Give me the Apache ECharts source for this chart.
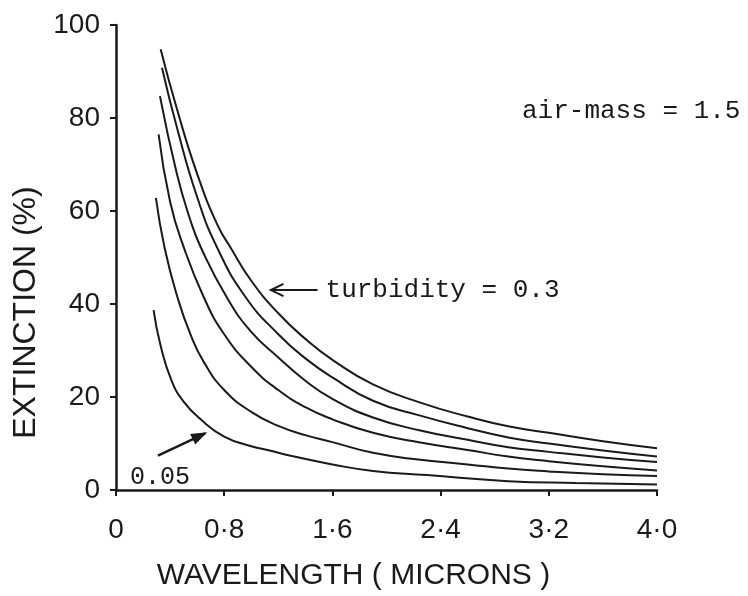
<!DOCTYPE html>
<html><head><meta charset="utf-8">
<script src="https://cdn.jsdelivr.net/npm/echarts@6/dist/echarts.min.js"></script>
<style>html,body{margin:0;padding:0;background:#fff}#c{width:748px;height:596px}</style>
</head><body><div id="c"></div>
<script>
// Tick labels
const xTickLabels = ['0', '0·8', '1·6', '2·4', '3·2', '4·0'];
const yTickLabels = ['0', '20', '40', '60', '80', '100'];
const seriesNames = ['turbidity = 0.3', 'curve 2', 'curve 3', 'curve 4', 'curve 5', 'turbidity = 0.05'];

// Wavelength (microns) and extinction (%), top curve first
const lambda1 = [0.33, 0.45, 0.6, 0.75, 0.85, 1.0, 1.2, 1.4, 1.6, 1.9, 2.25, 2.6, 2.9, 3.2, 3.6, 4.0];
const ext1    = [94.8, 82, 68, 57, 52, 45, 38, 32.5, 28, 22.7, 18.8, 15.8, 13.7, 12.3, 10.5, 9.0];
const lambda2 = [0.34, 0.45, 0.6, 0.75, 0.96, 1.2, 1.4, 1.6, 1.9, 2.25, 2.6, 2.9, 3.2, 3.6, 4.0];
const ext2    = [90.8, 78, 63, 52, 41.4, 33.5, 28.3, 24.2, 19.2, 16.0, 13.3, 11.3, 10.0, 8.5, 7.2];
const lambda3 = [0.325, 0.45, 0.55, 0.63, 0.82, 1.0, 1.2, 1.4, 1.6, 1.9, 2.25, 2.6, 2.9, 3.2, 3.6, 4.0];
const ext3    = [84.7, 68, 58, 52, 41.4, 34, 28.5, 23.5, 19.6, 15.6, 12.8, 10.8, 9.2, 8.2, 7.0, 6.0];
const lambda4 = [0.315, 0.4, 0.5, 0.65, 0.8, 1.0, 1.2, 1.4, 1.6, 1.9, 2.25, 2.6, 2.9, 3.2, 3.6, 4.0];
const ext4    = [76.5, 62, 52.3, 41.4, 33.5, 26.5, 21.5, 17.8, 15.2, 12.3, 10.2, 8.6, 7.2, 6.2, 5.1, 4.2];
const lambda5 = [0.295, 0.36, 0.455, 0.55, 0.65, 0.8, 1.0, 1.2, 1.4, 1.6, 1.9, 2.25, 2.6, 2.9, 3.2, 3.6, 4.0];
const ext5    = [62.8, 52, 41.4, 33.5, 27.5, 21.5, 16.8, 13.8, 11.8, 10.3, 8.0, 6.5, 5.5, 4.6, 4.0, 3.4, 3.0];
const lambda6 = [0.278, 0.33, 0.41, 0.5, 0.63, 0.8, 1.0, 1.12, 1.3, 1.6, 1.9, 2.3, 2.9, 3.4, 4.0];
const ext6    = [38.7, 31, 23.6, 19, 15.1, 11.5, 9.4, 8.6, 7.3, 5.5, 4.1, 3.2, 1.9, 1.5, 1.2];

const lambdas = [lambda1, lambda2, lambda3, lambda4, lambda5, lambda6];
const exts = [ext1, ext2, ext3, ext4, ext5, ext6];

const chart = echarts.init(document.getElementById('c'), null, {renderer: 'canvas'});
const ink = '#1a1a1a';
const mono = '"Liberation Mono", "DejaVu Sans Mono", monospace';
const sans = '"Liberation Sans", Arial, sans-serif';

const series = lambdas.map((lx, i) => ({
  name: seriesNames[i],
  type: 'line',
  data: lx.map((x, j) => [x, exts[i][j]]),
  showSymbol: false,
  smooth: 0.5,
  lineStyle: {color: ink, width: 2},
  silent: true
}));

chart.setOption({
  backgroundColor: '#fff',
  animation: false,
  grid: {left: 116, right: 91, top: 25, bottom: 102, containLabel: false},
  xAxis: {
    type: 'value', min: 0, max: 4, interval: 0.8,
    axisLine: {show: true, onZero: false, lineStyle: {color: ink, width: 2.5}},
    axisTick: {show: true, length: 6, lineStyle: {color: ink, width: 2}},
    splitLine: {show: false},
    axisLabel: {
      margin: 26, fontSize: 28, fontFamily: sans, color: ink,
      formatter: v => xTickLabels[Math.round(v / 0.8)]
    },
    name: 'WAVELENGTH ( MICRONS )', nameLocation: 'middle', nameGap: 71,
    nameTextStyle: {fontSize: 30, fontFamily: sans, color: ink, padding: [0, 66, 0, 0]}
  },
  yAxis: {
    type: 'value', min: 0, max: 100, interval: 20,
    axisLine: {show: true, lineStyle: {color: ink, width: 2.5}},
    axisTick: {show: true, length: 6, lineStyle: {color: ink, width: 2}},
    splitLine: {show: false},
    axisLabel: {
      margin: 16, fontSize: 28, fontFamily: sans, color: ink,
      formatter: v => yTickLabels[Math.round(v / 20)]
    },
    name: 'EXTINCTION (%)', nameLocation: 'middle', nameGap: 72,
    nameTextStyle: {fontSize: 32, fontFamily: sans, color: ink, padding: [0, 110, 0, 0]}
  },
  series: series
});

// Annotations placed in data coordinates
function px(p) { return chart.convertToPixel({gridIndex: 0}, p); }
const turbTip = px([1.145, 43.0]);
const turbTail = px([1.49, 43.0]);
const lowTail = px([0.31, 7.4]);
const lowTip = px([0.66, 12.2]);
const ang = Math.atan2(lowTip[1] - lowTail[1], lowTip[0] - lowTail[0]);
const ah = 14;
function headPts(tip, a, spread) {
  return [
    [tip[0] - ah * Math.cos(a - spread), tip[1] - ah * Math.sin(a - spread)],
    tip,
    [tip[0] - ah * Math.cos(a + spread), tip[1] - ah * Math.sin(a + spread)]
  ];
}
chart.setOption({
  graphic: [
    {type: 'text', left: 522, top: 98, style: {text: 'air-mass = 1.5', font: '26px ' + mono, fill: ink}},
    {type: 'text', x: turbTail[0] + 8, y: turbTail[1], style: {text: 'turbidity = 0.3', font: '26px ' + mono, fill: ink, verticalAlign: 'middle'}},
    {type: 'line', shape: {x1: turbTail[0], y1: turbTail[1], x2: turbTip[0], y2: turbTip[1]}, style: {stroke: ink, lineWidth: 2}},
    {type: 'polyline', shape: {points: headPts(turbTip, Math.PI, 0.45)}, style: {stroke: ink, lineWidth: 2, fill: null}},
    {type: 'text', x: 130, y: 477, style: {text: '0.05', font: '25px ' + mono, fill: ink, verticalAlign: 'middle'}},
    {type: 'line', shape: {x1: lowTail[0], y1: lowTail[1], x2: lowTip[0], y2: lowTip[1]}, style: {stroke: ink, lineWidth: 2.5}},
    {type: 'polygon', shape: {points: headPts(lowTip, ang, 0.35)}, style: {stroke: ink, lineWidth: 1.5, fill: ink}}
  ]
});
</script>
</body></html>
